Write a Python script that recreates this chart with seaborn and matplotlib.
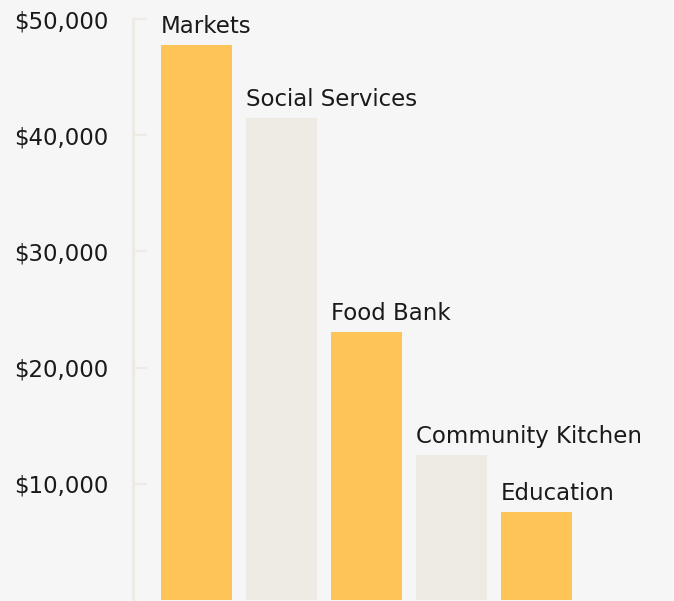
import matplotlib
matplotlib.use("Agg")
import matplotlib.pyplot as plt
import seaborn as sns
from matplotlib.ticker import FuncFormatter

# data
categories = ["Markets", "Social Services", "Food Bank", "Community Kitchen", "Education"]
values = [47800, 41500, 23100, 12500, 7600]
colors = ["#FFC457", "#EEEBE5", "#FFC457", "#EEEBE5", "#FFC457"]
yticks = [10000, 20000, 30000, 40000, 50000]

bg = "#F6F6F6"
line_col = "#EEEBE5"

sns.set_style("white")
plt.rcParams["font.family"] = ["DejaVu Sans"]

fig = plt.figure(figsize=(6.74, 6.01), dpi=100, facecolor=bg)
ax = fig.add_axes([133 / 674, 1 / 601, 1 - 133 / 674, (600 - 19) / 601])
ax.set_facecolor(bg)

sns.barplot(x=categories, y=values, hue=categories, palette=colors,
            width=0.835, saturation=1, legend=False, linewidth=0, ax=ax)

ax.set_ylim(0, 50000)
ax.set_xlim(-0.747, 5.618)
ax.set_yticks(yticks)
ax.yaxis.set_major_formatter(FuncFormatter(lambda v, p: f"${v:,.0f}"))
ax.tick_params(axis="y", left=True, direction="in", length=10, width=1.5,
               color=line_col, pad=18, labelsize=16.5, labelcolor="#1a1a1a")
ax.set_xticks([])
ax.set_xlabel("")
ax.set_ylabel("")

for s in ["top", "right", "bottom"]:
    ax.spines[s].set_visible(False)
ax.spines["left"].set_color(line_col)
ax.spines["left"].set_linewidth(2.2)

# labels above each bar, starting at the bar's left edge
for bar, name in zip(ax.patches, categories):
    ax.annotate(name, (bar.get_x(), bar.get_height()), xytext=(0, 5),
                textcoords="offset points", ha="left", va="bottom",
                fontsize=16.5, color="#1a1a1a")

fig.savefig("out.png", dpi=100, facecolor=bg)
